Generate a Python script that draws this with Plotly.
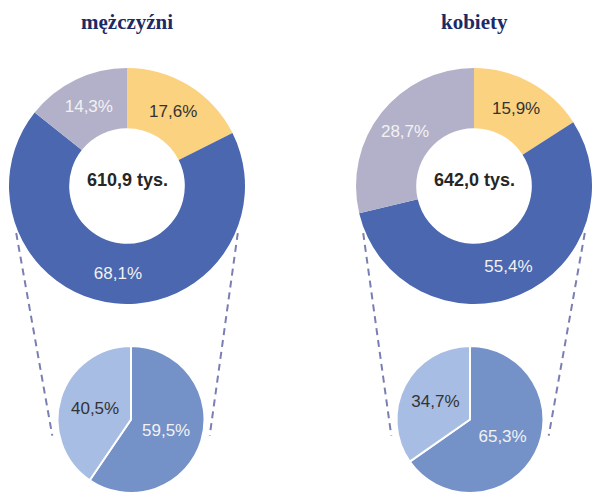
import math
import plotly.graph_objects as go

W, H = 592, 493

# ---- data ----
groups = ["mężczyźni", "kobiety"]
totals = ["610,9 tys.", "642,0 tys."]
main_labels = ["kat. A", "kat. B", "kat. C"]
main_values = {
    "mężczyźni": [17.6, 68.1, 14.3],
    "kobiety": [15.9, 55.4, 28.7],
}
sub_labels = ["pod-kat. 1", "pod-kat. 2"]
sub_values = {
    "mężczyźni": [59.5, 40.5],
    "kobiety": [65.3, 34.7],
}

main_colors = ["#FBD27F", "#4A67AF", "#B3B1C9"]
main_text_colors = ["#333333", "#F2F2F2", "#F2F2F2"]
sub_colors = ["#7491C8", "#A7BDE3"]
sub_text_colors = ["#F2F2F2", "#333333"]
title_color = "#1C2A66"
line_color = "#7A7FB3"

# layout geometry (pixels)
big_cx = [127, 474]
big_cy = 186
big_r = 118
small_cx = [131, 470]
small_top = 346


def fmt(v):
    return f"{v:.1f}".replace(".", ",") + "%"


def px_x(x):
    return x / W


def px_y(y):
    return 1 - y / H


fig = go.Figure()
shapes = []
annotations = []

for i, g in enumerate(groups):
    cx = big_cx[i]
    fig.add_trace(go.Pie(
        labels=main_labels,
        values=main_values[g],
        text=[fmt(v) for v in main_values[g]],
        textinfo="text",
        hole=0.49,
        sort=False,
        direction="clockwise",
        rotation=0,
        marker=dict(colors=main_colors, line=dict(width=0)),
        textposition="inside",
        insidetextorientation="horizontal",
        insidetextfont=dict(family="Liberation Sans, Arial", size=17, color=main_text_colors),
        domain=dict(x=[px_x(cx - big_r), min(1, px_x(cx + big_r))],
                    y=[px_y(big_cy + big_r), px_y(big_cy - big_r)]),
        showlegend=False,
        hoverinfo="label+percent",
    ))
    scx = small_cx[i]
    sh = H - small_top
    sr = sh / 2
    scy = small_top + sr
    fig.add_trace(go.Pie(
        labels=sub_labels,
        values=sub_values[g],
        text=[fmt(v) for v in sub_values[g]],
        textinfo="text",
        sort=False,
        direction="clockwise",
        rotation=0,
        marker=dict(colors=sub_colors, line=dict(color="white", width=2)),
        textposition="inside",
        insidetextorientation="horizontal",
        insidetextfont=dict(family="Liberation Sans, Arial", size=17, color=sub_text_colors),
        domain=dict(x=[px_x(scx - sr - 10), px_x(scx + sr + 10)], y=[0, px_y(small_top)]),
        showlegend=False,
        hoverinfo="label+percent",
    ))
    # connector lines
    a1 = math.radians(23)
    a2 = math.radians(8)
    rb = big_r * 1.02
    rs = sr + 6
    for s in (-1, 1):
        x0 = cx + s * rb * math.cos(a1)
        y0 = big_cy + rb * math.sin(a1)
        x1 = scx + s * rs * math.cos(a2)
        y1 = scy + rs * math.sin(a2) + 5
        shapes.append(dict(type="line", xref="paper", yref="paper",
                           x0=px_x(x0), y0=px_y(y0), x1=px_x(x1), y1=px_y(y1),
                           line=dict(color=line_color, width=2, dash="7px,5px")))
    annotations.append(dict(text=f"<b>{g}</b>", x=px_x(cx), y=px_y(22), xref="paper", yref="paper",
                            showarrow=False, xanchor="center", yanchor="middle",
                            font=dict(family="Liberation Serif, Times New Roman", size=21, color=title_color)))
    annotations.append(dict(text=f"<b>{totals[i]}</b>", x=px_x(cx), y=px_y(big_cy - 6), xref="paper", yref="paper",
                            showarrow=False, xanchor="center", yanchor="middle",
                            font=dict(family="Liberation Sans, Arial", size=18, color="#262626")))

fig.update_layout(
    width=W, height=H,
    margin=dict(l=0, r=0, t=0, b=0),
    paper_bgcolor="white", plot_bgcolor="white",
    shapes=shapes, annotations=annotations,
)

fig.write_html("out.html")
